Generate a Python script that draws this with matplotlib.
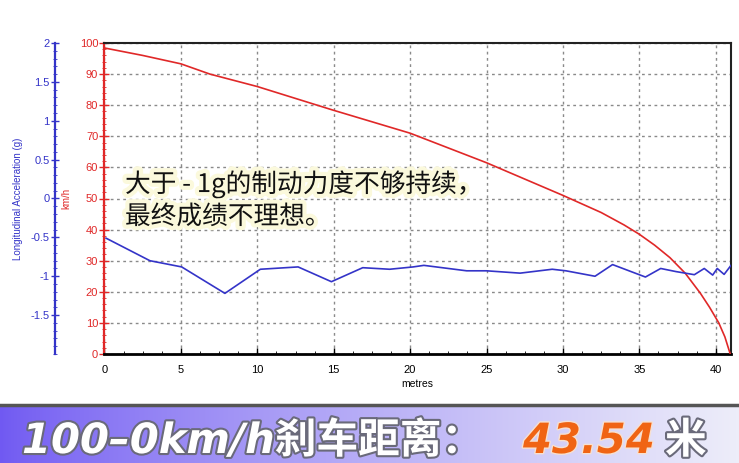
import numpy as np
import matplotlib as mpl
mpl.use('Agg')
import matplotlib.pyplot as plt
import matplotlib.patheffects as pe
from matplotlib.ticker import MultipleLocator

# speed curve (km/h vs metres)
dist_speed = [0, 2.5, 5.0, 6.9, 10.0, 14.9, 20, 25, 30, 32.5, 34, 35, 36, 37, 38, 39, 39.6, 40.2, 40.6, 40.95]
speed = [98.4, 96.0, 93.3, 90.0, 86.0, 78.5, 71.0, 61.5, 51.0, 45.5, 41.5, 38.5, 35.0, 31.0, 26.0, 19.5, 15.0, 10.0, 5.5, 0.0]

# longitudinal acceleration (g vs metres)
dist_acc = [0.1, 2.97, 5.05, 7.88, 10.2, 12.67, 14.85, 16.9, 18.66, 20.2, 20.9, 23.7, 25.0, 27.2,
            29.3, 30.2, 32.1, 33.25, 35.4, 36.4, 37.4, 38.6, 39.25, 39.8, 40.1, 40.55, 41.0]
accel = [-0.51, -0.80, -0.88, -1.22, -0.91, -0.88, -1.07, -0.89, -0.91, -0.88, -0.86, -0.93, -0.93, -0.96,
         -0.91, -0.93, -1.00, -0.85, -1.01, -0.90, -0.94, -0.98, -0.90, -0.985, -0.90, -0.976, -0.86]

x_ticks = [0, 5, 10, 15, 20, 25, 30, 35, 40]
speed_ticks = [0, 10, 20, 30, 40, 50, 60, 70, 80, 90, 100]
acc_ticks = [-1.5, -1, -0.5, 0, 0.5, 1, 1.5, 2]
acc_tick_labels = ['-1.5', '-1', '-0.5', '0', '0.5', '1', '1.5', '2']

note = '大于 - 1g的制动力度不够持续，\n最终成绩不理想。'
banner_left = '100–0km/h刹车距离：'
banner_value = '43.54'
banner_unit = '米'

RED = '#e02828'
BLUE = '#3434c8'

plt.rcParams['font.family'] = ['Liberation Sans', 'Noto Sans CJK SC', 'DejaVu Sans']

W, H = 739, 463
fig = plt.figure(figsize=(W / 100, H / 100), dpi=100)

def fx(px):
    return px / W

def fy(py):
    return (H - py) / H

# main axes
left, right, top, bottom = 104.5, 731, 43, 354
ax = fig.add_axes([fx(left), fy(bottom), fx(right - left), (bottom - top) / H])
ax.set_xlim(0, 41.0)
ax.set_ylim(0, 100)
ax.plot(dist_speed, speed, color=RED, lw=1.2, zorder=4)

ax.set_xticks(x_ticks)
ax.xaxis.set_minor_locator(MultipleLocator(1.25))
ax.set_yticks(speed_ticks)
ax.yaxis.set_minor_locator(MultipleLocator(2))
ax.grid(True, which='major', color='#8a8a8a', linestyle=(0, (2, 2.5)), lw=1)
ax.tick_params(axis='x', direction='in', length=4, width=1, labelsize=8, colors='black', pad=8)
ax.tick_params(axis='x', which='minor', direction='in', length=2.5)
ax.tick_params(axis='y', direction='inout', length=7, width=1, labelsize=8, colors=RED, pad=1)
ax.tick_params(axis='y', which='minor', direction='inout', length=3, color=RED)
for s in ['top', 'right']:
    ax.spines[s].set_color('#222222')
    ax.spines[s].set_linewidth(1.5)
ax.spines['bottom'].set_color('black')
ax.spines['bottom'].set_linewidth(2)
ax.spines['left'].set_color(RED)
ax.spines['left'].set_linewidth(1.6)
ax.set_xlabel('metres', fontsize=7.5, labelpad=3)
ax.set_ylabel('km/h', fontsize=7, color=RED, labelpad=6)

# acceleration axis on the far left
ax2 = ax.twinx()
ax2.set_ylim(-2, 2)
ax2.plot(dist_acc, accel, color=BLUE, lw=1.2, zorder=5)
ax2.yaxis.set_label_position('left')
ax2.yaxis.set_ticks_position('left')
ax2.spines['left'].set_position(('axes', (55 - left) / (right - left)))
ax2.spines['left'].set_color(BLUE)
ax2.spines['left'].set_linewidth(1.6)
for s in ['top', 'right', 'bottom']:
    ax2.spines[s].set_visible(False)
ax2.set_yticks(acc_ticks)
ax2.set_yticklabels(acc_tick_labels)
ax2.yaxis.set_minor_locator(MultipleLocator(0.1))
ax2.tick_params(axis='y', direction='inout', length=6, width=1, labelsize=8, colors=BLUE, pad=1)
ax2.tick_params(axis='y', which='minor', direction='inout', length=3, color=BLUE)
ax2.set_ylabel('Longitudinal Acceleration (g)', fontsize=7, color=BLUE, labelpad=5)

# note on the chart
fig.text(fx(125), fy(200), note, fontsize=18.5, color='#111111', ha='left', va='center',
         linespacing=1.3, family=['Noto Sans CJK SC', 'DejaVu Sans'], zorder=10,
         path_effects=[pe.withStroke(linewidth=6, foreground='#fbf9dc')])

# banner at the bottom
bax = fig.add_axes([0, 0, 1, fy(406)])
grad = np.linspace(0, 1, 256)
c0 = np.array([0.44, 0.35, 0.95])
c1 = np.array([0.93, 0.93, 0.98])
img = c0[None, :] * (1 - grad[:, None] ** 0.8) + c1[None, :] * grad[:, None] ** 0.8
bax.imshow(img[None, :, :], aspect='auto', extent=[0, 1, 0, 1])
bax.set_xlim(0, 1)
bax.set_ylim(0, 1)
bax.axis('off')
fig.add_artist(plt.Line2D([0, 1], [fy(405), fy(405)], color='#555555', lw=2.5))

shadow = [pe.withStroke(linewidth=3, foreground='#6a6a7a')]
fig.text(fx(22), fy(453), banner_left, fontsize=30, color='white', weight='bold', style='italic',
         family=['DejaVu Sans', 'Noto Sans CJK SC'], ha='left', va='baseline', path_effects=shadow)
fig.text(fx(523), fy(453), banner_value, fontsize=30, color='#f06414', weight='bold', style='italic',
         family=['DejaVu Sans'], ha='left', va='baseline',
         path_effects=[pe.withStroke(linewidth=2, foreground='#f7e0d0')])
fig.text(fx(665), fy(453), banner_unit, fontsize=30, color='white', weight='bold',
         family=['Noto Sans CJK SC'], ha='left', va='baseline', path_effects=shadow)

fig.savefig('out.png', dpi=100)
